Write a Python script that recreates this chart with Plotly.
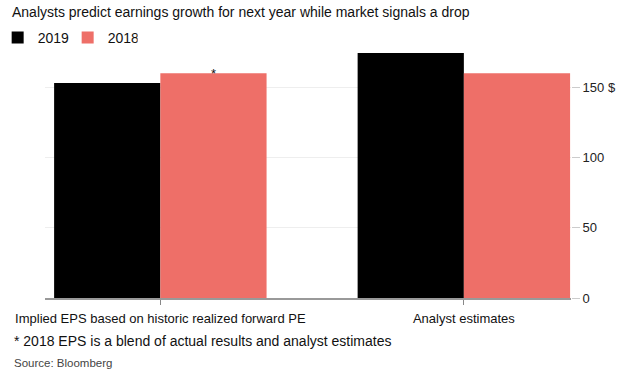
import plotly.graph_objects as go

categories = ["Implied EPS based on historic realized forward PE", "Analyst estimates"]
cat_pos = [0, 1]
eps_2019 = [153, 174.5]
eps_2018 = [160, 160]
y_ticks = [0, 50, 100, 150]
y_tick_labels = ["0", "50", "100", "150 $"]

FONT = "Liberation Sans, Arial, sans-serif"
BLACK = "#000000"
RED = "#ee6f68"

fig = go.Figure()
fig.add_trace(go.Bar(x=cat_pos, y=eps_2019, name="2019", marker=dict(color=BLACK, line=dict(width=0)),
                     width=0.35, offset=-0.35))
fig.add_trace(go.Bar(x=cat_pos, y=eps_2018, name="2018", marker=dict(color=RED, line=dict(width=0)),
                     width=0.35, offset=0))

fig.add_annotation(x=cat_pos[0] + 0.175, y=eps_2018[0], text="*", showarrow=False,
                   yanchor="bottom", yshift=-10, font=dict(size=13, color="#111", family=FONT))
fig.add_annotation(x=-0.0627, y=-0.17, xref="paper", yref="paper", xanchor="left", yanchor="middle",
                   text="* 2018 EPS is a blend of actual results and analyst estimates", showarrow=False,
                   font=dict(size=14, color="#111", family=FONT))
fig.add_annotation(x=-0.0627, y=-0.258, xref="paper", yref="paper", xanchor="left", yanchor="middle",
                   text="Source: Bloomberg", showarrow=False,
                   font=dict(size=11.5, color="#444", family=FONT))

fig.update_layout(
    width=630, height=376,
    margin=dict(l=45, r=59, t=48, b=78, autoexpand=False),
    paper_bgcolor="white", plot_bgcolor="white",
    barmode="overlay",
    font=dict(family=FONT, size=13, color="#222"),
    title=dict(text="Analysts predict earnings growth for next year while market signals a drop",
               x=0.019, xanchor="left", y=1 - 12 / 376, yanchor="middle",
               font=dict(size=14, color="#111", family=FONT)),
    showlegend=True,
    legend=dict(orientation="h", x=-0.09, xanchor="left", y=1 + (48 - 38) / 250, yanchor="middle",
                font=dict(size=14, color="#111"), bgcolor="rgba(0,0,0,0)", itemclick=False,
                tracegroupgap=0, entrywidth=25),
    xaxis=dict(range=[-0.38, 1.353], tickvals=cat_pos, ticktext=categories, ticks="outside",
               ticklen=5, tickcolor="#888", showline=True, linecolor="#999", linewidth=1.5,
               showgrid=False, zeroline=False, tickfont=dict(size=13, color="#111"),
               ticklabelstandoff=3, fixedrange=True),
    yaxis=dict(range=[0, 178], side="right", tickvals=y_ticks, ticktext=y_tick_labels,
               ticks="outside", ticklen=8, tickcolor="#ccc", showgrid=True, gridcolor="#eeeeee",
               zeroline=False, showline=False, tickfont=dict(size=13, color="#222"), fixedrange=True),
)

fig.write_html("out.html", config={"displayModeBar": False},
               post_script="document.body.style.margin='0';document.body.style.overflow='hidden';")
